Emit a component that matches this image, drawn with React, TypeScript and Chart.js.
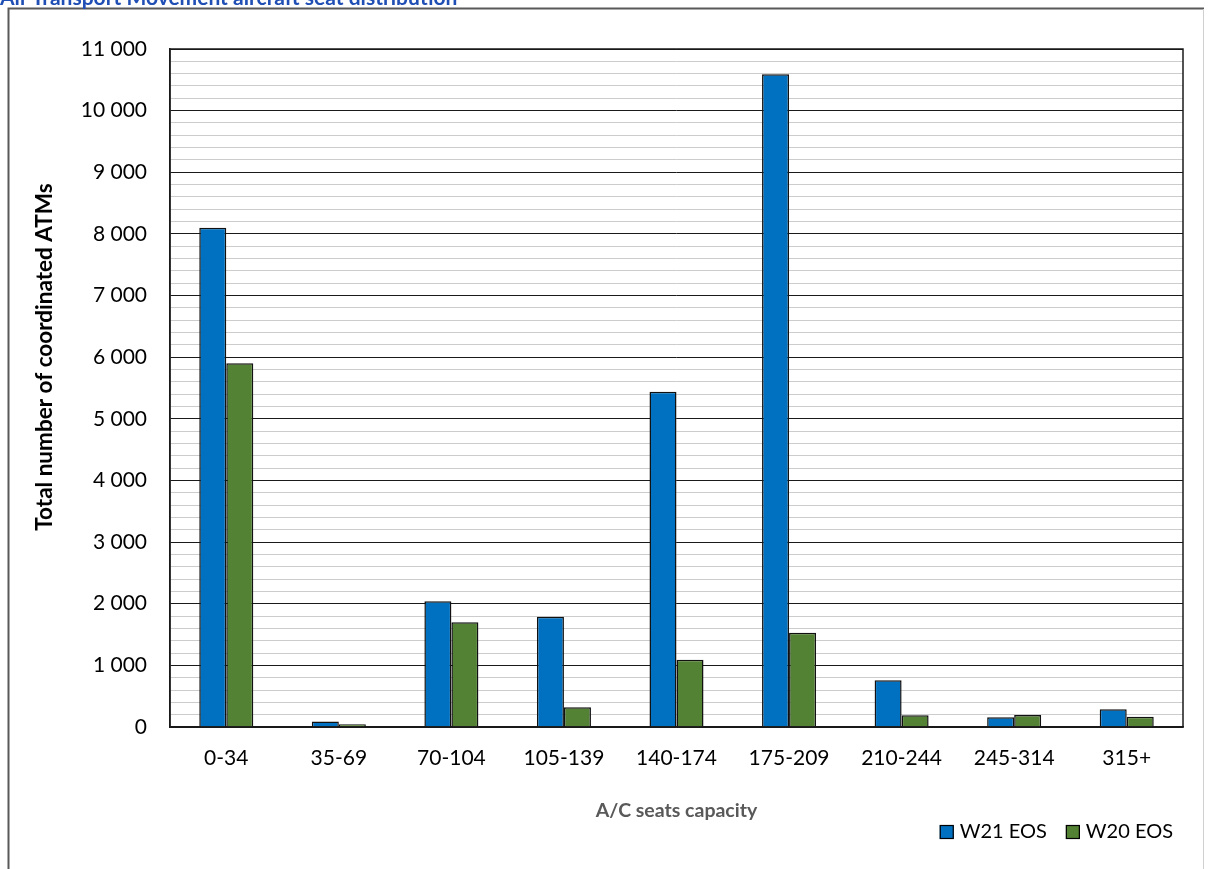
import { useEffect, useRef } from "react";
import { Chart, registerables } from "chart.js";

Chart.register(...registerables);

// Aircraft seat-capacity bands and coordinated air transport movements per season
const seatBands = ["0-34", "35-69", "70-104", "105-139", "140-174", "175-209", "210-244", "245-314", "315+"];
const w21Eos = [8100, 90, 2040, 1790, 5440, 10590, 760, 160, 290];
const w20Eos = [5900, 45, 1700, 320, 1090, 1530, 190, 195, 165];
const seriesNames = ["W21 EOS", "W20 EOS"];
const seriesColors = ["#0070C0", "#548235"];

const yMax = 11000;
const yMinorStep = 200;
const yMajorStep = 1000;

const chartTitle = "Air Transport Movement aircraft seat distribution";
const yTitle = "Total number of coordinated ATMs";
const xTitle = "A/C seats capacity";

const FONT = "Lato, 'Open Sans', sans-serif";

function formatThousands(v: number): string {
  return String(v).replace(/\B(?=(\d{3})+(?!\d))/g, " ");
}

// Outer frame, plot border, vertical axis title and the legend
const decorPlugin = {
  id: "decor",
  beforeDraw(chart: any) {
    const ctx = chart.ctx;
    ctx.save();
    ctx.fillStyle = "#ffffff";
    ctx.fillRect(0, 0, chart.width, chart.height);
    ctx.strokeStyle = "#595959";
    ctx.lineWidth = 2;
    ctx.beginPath();
    ctx.moveTo(8.5, chart.height);
    ctx.lineTo(8.5, 8.5);
    ctx.lineTo(1204, 8.5);
    ctx.stroke();
    ctx.strokeStyle = "#d0d0d0";
    ctx.lineWidth = 1;
    ctx.beginPath();
    ctx.moveTo(1203.5, 9);
    ctx.lineTo(1203.5, chart.height);
    ctx.stroke();
    ctx.restore();
  },
  afterDraw(chart: any) {
    const ctx = chart.ctx;
    const area = chart.chartArea;
    ctx.save();
    ctx.strokeStyle = "#1a1a1a";
    ctx.lineWidth = 1.5;
    ctx.strokeRect(area.left, area.top, area.right - area.left, area.bottom - area.top);

    // vertical axis title
    ctx.save();
    ctx.translate(45, 357);
    ctx.rotate(-Math.PI / 2);
    ctx.font = `bold 22.5px ${FONT}`;
    ctx.fillStyle = "#000";
    ctx.textAlign = "center";
    ctx.textBaseline = "middle";
    ctx.fillText(yTitle, 0, 0);
    ctx.restore();

    // legend
    ctx.font = `20px ${FONT}`;
    ctx.textBaseline = "middle";
    ctx.textAlign = "left";
    const box = 14;
    const gapText = 6;
    const gapItem = 19;
    const widths = seriesNames.map((n) => ctx.measureText(n).width);
    let total = 0;
    widths.forEach((w, i) => {
      total += box + gapText + w + (i < widths.length - 1 ? gapItem : 0);
    });
    let x = 1173 - total;
    const cy = 832;
    seriesNames.forEach((name, i) => {
      ctx.fillStyle = seriesColors[i];
      ctx.fillRect(x, cy - box / 2, box, box);
      ctx.strokeStyle = "#000";
      ctx.lineWidth = 1.2;
      ctx.strokeRect(x + 0.5, cy - box / 2 + 0.5, box - 1, box - 1);
      ctx.fillStyle = "#000";
      ctx.fillText(name, x + box + gapText, cy);
      x += box + gapText + widths[i] + gapItem;
    });
    ctx.restore();
  },
};

export default function App() {
  const canvasRef = useRef<HTMLCanvasElement | null>(null);

  useEffect(() => {
    const canvas = canvasRef.current;
    if (!canvas) return;
    const chart = new Chart(canvas, {
      type: "bar",
      data: {
        labels: seatBands,
        datasets: [
          {
            label: seriesNames[0],
            data: w21Eos,
            backgroundColor: seriesColors[0],
            borderColor: "#111",
            borderWidth: 1.5,
            categoryPercentage: 0.48,
            barPercentage: 1,
          },
          {
            label: seriesNames[1],
            data: w20Eos,
            backgroundColor: seriesColors[1],
            borderColor: "#111",
            borderWidth: 1.5,
            categoryPercentage: 0.48,
            barPercentage: 1,
          },
        ],
      },
      options: {
        responsive: false,
        animation: false,
        layout: { padding: { left: 0, top: 49, right: 31, bottom: 0 } },
        plugins: {
          legend: { display: false },
          tooltip: { enabled: false },
          title: { display: false },
        },
        scales: {
          x: {
            grid: { display: false, drawTicks: false },
            border: { display: true, color: "#1a1a1a", width: 1.5 },
            ticks: {
              color: "#000",
              font: { family: FONT, size: 21 },
              padding: 19,
              maxRotation: 0,
              autoSkip: false,
            },
            title: {
              display: true,
              text: xTitle,
              color: "#595959",
              font: { family: FONT, size: 19.5, weight: "bold" },
              padding: { top: 0, bottom: 47 },
            },
            afterFit(scale: any) {
              scale.height = 142;
            },
          },
          y: {
            min: 0,
            max: yMax,
            grid: {
              color: (c: any) =>
                c.tick && c.tick.value % yMajorStep === 0 ? "#1a1a1a" : "#cccccc",
              lineWidth: 1,
              drawTicks: false,
            },
            border: { display: true, color: "#1a1a1a", width: 1.5 },
            ticks: {
              stepSize: yMinorStep,
              autoSkip: false,
              color: "#000",
              font: { family: FONT, size: 21 },
              padding: 23,
              callback: (v: any) => (Number(v) % yMajorStep === 0 ? formatThousands(Number(v)) : ""),
            },
            title: { display: false },
            afterFit(scale: any) {
              scale.width = 170;
            },
          },
        },
      },
      plugins: [decorPlugin],
    });
    return () => chart.destroy();
  }, []);

  return (
    <div style={{ position: "absolute", left: 0, top: 0, width: 1214, height: 869, overflow: "hidden" }}>
      <div
        style={{
          position: "absolute",
          left: 0,
          top: -14,
          fontFamily: FONT,
          fontWeight: "bold",
          fontSize: 21,
          lineHeight: "21px",
          color: "#1F4EB4",
          whiteSpace: "nowrap",
          zIndex: 1,
        }}
      >
        {chartTitle}
      </div>
      <canvas ref={canvasRef} width={1214} height={869} style={{ display: "block" }} />
    </div>
  );
}
